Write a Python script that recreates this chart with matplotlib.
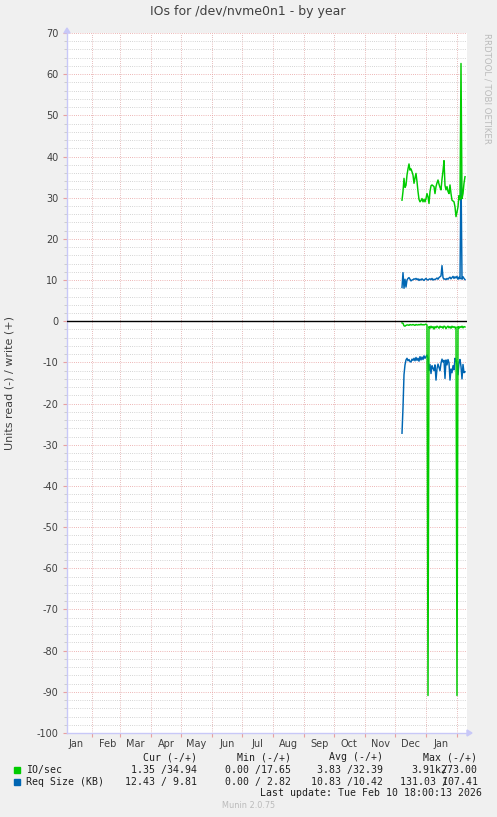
import matplotlib
matplotlib.use("Agg")
import matplotlib.pyplot as plt
import matplotlib.dates as mdates
from matplotlib.ticker import MultipleLocator, NullFormatter
import pandas as pd
import numpy as np
from datetime import datetime

plt.rcParams["axes.unicode_minus"] = False

# ---------------- data ----------------
start_day = "2025-12-07 18:00"
write_ios = [29.4, 31.5, 34.7, 32.5, 33.0, 35.5, 37.0, 38.2, 36.7, 37.0, 36.3, 35.5, 33.5, 34.8, 35.9, 33.9,
             31.5, 29.6, 29.0, 29.3, 29.8, 29.0, 29.6, 29.0, 29.8, 31.0, 30.2, 28.6, 31.5, 32.9, 33.1, 32.9,
             32.7, 31.0, 32.7, 33.6, 34.3, 33.3, 32.5, 31.9, 34.5, 36.5, 39.0, 33.0, 31.9, 32.7, 31.5, 31.0,
             33.1, 31.0, 29.4, 29.2, 29.0, 27.8, 25.4, 26.5, 27.8, 30.5, 29.5, 62.6, 29.8, 31.0, 33.5, 35.1]
read_ios = [0.4, 0.5, 1.1, 1.2, 1.0, 0.9, 0.9, 1.0, 0.8, 0.9, 0.9, 0.8, 0.9, 1.0, 0.8, 0.9,
            0.9, 0.8, 0.9, 0.7, 0.9, 0.8, 0.9, 0.8, 0.7, 0.9, 90.9, 1.3, 1.7, 1.2, 1.6, 1.3,
            1.9, 1.3, 1.6, 1.2, 1.4, 1.7, 1.2, 1.5, 1.3, 1.7, 1.2, 1.3, 1.8, 1.4, 1.2, 1.6,
            1.3, 1.7, 1.2, 1.5, 1.3, 1.6, 1.4, 90.9, 1.3, 1.7, 1.3, 1.5, 1.2, 1.6, 1.3, 1.4]
write_req = [8.2, 11.8, 8.0, 10.2, 8.3, 10.0, 10.4, 10.6, 10.2, 9.8, 10.0, 10.1, 10.3, 10.2, 10.4, 10.1,
             10.3, 9.9, 10.2, 10.0, 10.3, 10.1, 9.9, 10.2, 10.4, 10.1, 10.0, 10.2, 10.3, 10.1, 10.4, 10.0,
             10.2, 10.1, 10.3, 10.5, 10.2, 10.6, 10.8, 11.0, 13.5, 10.6, 10.2, 10.3, 10.1, 10.4, 10.2, 10.5,
             10.7, 10.3, 10.6, 10.9, 10.4, 10.8, 10.5, 10.9, 10.2, 10.7, 10.3, 36.7, 10.2, 10.8, 10.4, 10.1]
read_req = [27.2, 21.0, 13.0, 10.6, 9.4, 9.0, 9.6, 9.3, 9.8, 9.9, 9.2, 9.5, 9.0, 9.6, 8.8, 9.5,
            9.0, 9.7, 8.6, 9.4, 8.7, 9.3, 8.4, 9.0, 8.6, 8.2, 9.0, 12.0, 10.5, 12.7, 10.8, 11.4,
            12.0, 10.6, 14.3, 11.5, 10.4, 11.2, 12.0, 10.2, 9.2, 9.9, 9.5, 13.9, 9.4, 10.6, 9.3, 10.1,
            14.3, 11.6, 12.5, 10.8, 11.8, 9.0, 9.5, 10.5, 13.0, 10.0, 9.3, 11.0, 14.0, 10.5, 12.5, 12.3]

series_names = ["IO/sec", "Req Size (KB)"]
series_colors = ["#00CC00", "#0066B3"]
cur_vals = ["1.35 /34.94", "12.43 / 9.81"]
min_vals = ["0.00 /17.65", "0.00 / 2.82"]
avg_vals = ["3.83 /32.39", "10.83 /10.42"]
max_read = ["3.91k", "131.03 "]
max_write = ["273.00", "107.41"]
col_headers = ["Cur (-/+)", "Min (-/+)", "Avg (-/+)", "Max (-/+)"]
title = "IOs for /dev/nvme0n1 - by year"
ylabel = "Units read (-) / write (+)"
last_update = "Last update: Tue Feb 10 18:00:13 2026"
footer = "Munin 2.0.75"
side_text = "RRDTOOL / TOBI OETIKER"

dates = pd.date_range(start_day, periods=len(write_ios), freq="D")

# ---------------- figure ----------------
W, H = 497, 817
fig = plt.figure(figsize=(W / 100, H / 100), dpi=100, facecolor="#F0F0F0")
ax = fig.add_axes([67 / W, 84 / H, 400 / W, 700 / H])
ax.set_facecolor("white")

def fx(px):
    return px / W

def fy(py):
    return 1 - py / H

lw = 1.05
ax.plot(dates, write_ios, color=series_colors[0], lw=lw, zorder=4)
ax.plot(dates, -np.array(read_ios), color=series_colors[0], lw=lw, zorder=4)
ax.plot(dates, write_req, color=series_colors[1], lw=lw, zorder=3)
ax.plot(dates, -np.array(read_req), color=series_colors[1], lw=lw, zorder=3)
ax.axhline(0, color="black", lw=1.0, zorder=5)

ax.set_xlim(datetime(2025, 1, 6, 18), datetime(2026, 2, 10, 18))
ax.set_ylim(-100, 70)

# y axis
ax.yaxis.set_major_locator(MultipleLocator(10))
ax.yaxis.set_minor_locator(MultipleLocator(2))
ax.tick_params(axis="y", which="major", length=3, width=0.8, color="#E8A0A0",
               labelsize=7, labelcolor="#404040", pad=3)
ax.tick_params(axis="y", which="minor", length=2, width=0.6, color="#C8C8C8")

# x axis
ax.xaxis.set_major_locator(mdates.MonthLocator())
ax.xaxis.set_major_formatter(NullFormatter())
ax.xaxis.set_minor_locator(mdates.MonthLocator(bymonthday=16))
ax.xaxis.set_minor_formatter(mdates.DateFormatter("%b"))
ax.tick_params(axis="x", which="major", length=3, width=0.8, color="#E8A0A0")
ax.tick_params(axis="x", which="minor", length=0, labelsize=7, labelcolor="#404040", pad=4)

dots = (0, (0.72, 1.44))
ax.yaxis.grid(True, which="minor", color="#C8C8C8", lw=0.72, linestyle=dots)
ax.yaxis.grid(True, which="major", color="#E8A0A0", lw=0.72, linestyle=dots)
ax.xaxis.grid(True, which="major", color="#E0A8A8", lw=0.72, linestyle=dots)
ax.set_axisbelow(True)

for s in ["top", "right"]:
    ax.spines[s].set_visible(False)
for s in ["left", "bottom"]:
    ax.spines[s].set_color("#C8C8F8")
    ax.spines[s].set_linewidth(1.0)

# arrows on axes
fig.patches.append(plt.Polygon([[fx(64), fy(33)], [fx(70), fy(33)], [fx(67), fy(28)]],
                               closed=True, transform=fig.transFigure, color="#C8C8F8"))
fig.patches.append(plt.Polygon([[fx(467), fy(730)], [fx(467), fy(736)], [fx(472), fy(733)]],
                               closed=True, transform=fig.transFigure, color="#C8C8F8"))

# texts
fig.text(fx(248), fy(12), title, ha="center", va="center", fontsize=9, color="#404040")
fig.text(fx(10), fy(383), ylabel, ha="center", va="center", rotation=90, fontsize=8, color="#404040")
fig.text(fx(487), fy(33), side_text, ha="center", va="top", rotation=-90, fontsize=6.2, color="#BBBBBB")
fig.text(fx(249), fy(806), footer, ha="center", va="center", fontsize=5.9, color="#BBBBBB")

mono = "DejaVu Sans Mono"
fs = 7.1
cw = 0.602 * fs * 100 / 72  # char width in px
col_right = [196.7, 290.7, 383.3, 476.7]
tc = "#202020"
for hdr, xr in zip(col_headers, col_right):
    fig.text(fx(xr), fy(757.3), hdr, ha="right", va="center", fontsize=fs, family=mono, color=tc)

row_y = [769.7, 781.7]
for i in range(2):
    y = row_y[i]
    fig.patches.append(plt.Rectangle((fx(14), fy(y + 3)), 6 / W, 6 / H, transform=fig.transFigure,
                                     color=series_colors[i]))
    fig.text(fx(26), fy(y), series_names[i], ha="left", va="center", fontsize=fs, family=mono, color=tc)
    for txt, xr in zip([cur_vals[i], min_vals[i], avg_vals[i]], col_right[:3]):
        fig.text(fx(xr), fy(y), txt, ha="right", va="center", fontsize=fs, family=mono, color=tc)
    full = max_read[i] + max_write[i]
    x0 = col_right[3] - len(full) * cw
    fig.text(fx(x0), fy(y), full, ha="left", va="center", fontsize=fs, family=mono, color=tc)
    fig.text(fx(x0 + len(max_read[i]) * cw), fy(y), "/", ha="left", va="center", fontsize=fs,
             family=mono, color=tc)

fig.text(fx(482.3), fy(793.3), last_update, ha="right", va="center", fontsize=fs, family=mono, color=tc)

fig.savefig("out.png", dpi=100, facecolor=fig.get_facecolor())
